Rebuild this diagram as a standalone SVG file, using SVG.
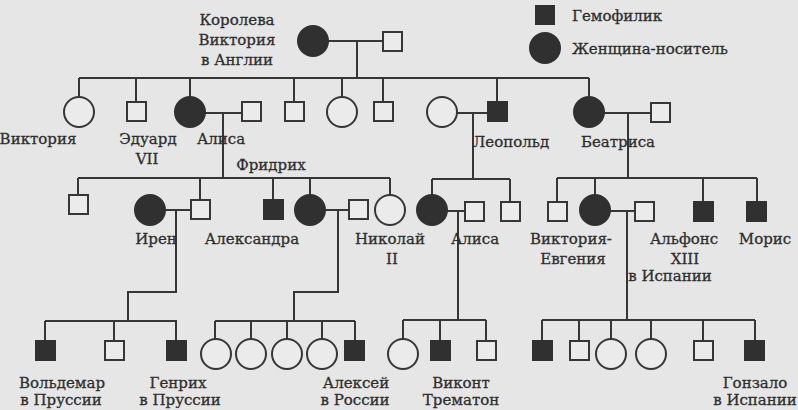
<svg xmlns="http://www.w3.org/2000/svg" width="798" height="410" viewBox="0 0 798 410">
<style>
.bg{fill:#e6e6e6}
.ln{stroke:#363636;stroke-width:2;fill:none}
.o{fill:#ebebeb;stroke:#363636;stroke-width:2}
.f{fill:#303030;stroke:#303030;stroke-width:2}
text{font-family:"DejaVu Serif","Liberation Serif",serif;font-size:15px;fill:#2e2e2e;stroke:#2e2e2e;stroke-width:0.3;text-anchor:middle}
.l{text-anchor:start}
</style>
<rect class="bg" x="0" y="0" width="798" height="410"/>
<g id="connectors">
<path class="ln" d="M328 41H383M357 41V78M79 78H589M79 78V97M136 78V102M190 78V97M294 78V102M342 78V97M383 78V102M497 78V102M589 78V97"/>
<path class="ln" d="M205 113H242M223 113V178M78 178H390M78 178V195M200 178V200M273 178V200M310 178V195M390 178V195"/>
<path class="ln" d="M457 113H488M473 113V179M432 179H510M432 179V195M510 179V202"/>
<path class="ln" d="M604 113H651M628 113V178M557 178H757M557 178V202M595 178V195M703 178V202M757 178V202"/>
<path class="ln" d="M165 210H191M176 210V292H128V321M45 321H177M45 321V341M114 321V341M176 321V341"/>
<path class="ln" d="M325 210H349M338 210V292H294V321M215 321H355M215 321V339M251 321V339M287 321V339M322 321V339M355 321V341"/>
<path class="ln" d="M447 211H465M458 211V320M403 320H486M403 320V339M440 320V341M486 320V341"/>
<path class="ln" d="M610 211H635M627 211V320M542 320H755M542 320V341M579 320V341M611 320V339M651 320V339M703 320V341M755 320V341"/>
</g>
<g id="legend">
<rect class="f" x="536" y="6" width="18" height="18"/>
<text class="l" x="572" y="21">Гемофилик</text>
<circle class="f" cx="545" cy="48" r="15"/>
<text class="l" x="572" y="54">Женщина-носитель</text>
</g>
<g id="queen-victoria"><circle class="f" cx="313" cy="41" r="15"/>
<text x="237" y="25">Королева</text><text x="237" y="45">Виктория</text><text x="237" y="65">в Англии</text></g>
<g id="albert"><rect class="o" x="383" y="32" width="19" height="19"/></g>
<g id="victoria"><circle class="o" cx="79" cy="112" r="15"/><text x="38" y="144">Виктория</text></g>
<g id="edward"><rect class="o" x="127" y="102" width="19" height="19"/><text x="148" y="144">Эдуард</text><text x="147" y="164">VII</text></g>
<g id="alice"><circle class="f" cx="190" cy="112" r="15"/><text x="221" y="144">Алиса</text></g>
<g id="ludwig"><rect class="o" x="242" y="102" width="19" height="19"/></g>
<g id="friedrich-label"><text x="271" y="170">Фридрих</text></g>
<g id="g2-son1"><rect class="o" x="285" y="102" width="19" height="19"/></g>
<g id="g2-dau"><circle class="o" cx="342" cy="112" r="15"/></g>
<g id="g2-son2"><rect class="o" x="374" y="102" width="19" height="19"/></g>
<g id="helena"><circle class="o" cx="442" cy="112" r="15"/></g>
<g id="leopold"><rect class="f" x="488" y="102" width="19" height="19"/><text x="511" y="147">Леопольд</text></g>
<g id="beatrice"><circle class="f" cx="589" cy="112" r="15"/><text x="618" y="147">Беатриса</text></g>
<g id="henry"><rect class="o" x="651" y="103" width="19" height="19"/></g>
<g id="g3-son1"><rect class="o" x="69" y="195" width="19" height="19"/></g>
<g id="irene"><circle class="f" cx="150" cy="210" r="15"/><text x="156" y="244">Ирен</text></g>
<g id="heinrich"><rect class="o" x="191" y="200" width="19" height="19"/></g>
<g id="g3-hemo"><rect class="f" x="264" y="200" width="19" height="19"/></g>
<g id="alexandra"><circle class="f" cx="310" cy="210" r="15"/><text x="252" y="244">Александра</text></g>
<g id="nicholas"><rect class="o" x="349" y="200" width="19" height="19"/><text x="390" y="244">Николай</text><text x="392" y="264">II</text></g>
<g id="g3-dau"><circle class="o" cx="390" cy="210" r="15"/></g>
<g id="alice2"><circle class="f" cx="432" cy="210" r="15"/><text x="475" y="244">Алиса</text></g>
<g id="alice2-husband"><rect class="o" x="465" y="202" width="19" height="19"/></g>
<g id="g3-son2"><rect class="o" x="501" y="202" width="19" height="19"/></g>
<g id="g3-son3"><rect class="o" x="548" y="202" width="19" height="19"/></g>
<g id="victoria-eugenie"><circle class="f" cx="595" cy="210" r="15"/><text x="571" y="244">Виктория-</text><text x="573" y="264">Евгения</text></g>
<g id="alfonso"><rect class="o" x="635" y="202" width="19" height="19"/><text x="684" y="244">Альфонс</text><text x="685" y="264">XIII</text><text x="670" y="281">в Испании</text></g>
<g id="g3-hemo2"><rect class="f" x="694" y="202" width="19" height="19"/></g>
<g id="maurice"><rect class="f" x="747" y="202" width="19" height="19"/><text x="765" y="244">Морис</text></g>
<g id="waldemar"><rect class="f" x="36" y="341" width="19" height="19"/><text x="62" y="388">Вольдемар</text><text x="61" y="405">в Пруссии</text></g>
<g id="g4-son"><rect class="o" x="105" y="341" width="19" height="19"/></g>
<g id="henry-prussia"><rect class="f" x="167" y="341" width="19" height="19"/><text x="178" y="388">Генрих</text><text x="180" y="405">в Пруссии</text></g>
<g id="olga"><circle class="o" cx="216" cy="354" r="15"/></g>
<g id="tatiana"><circle class="o" cx="251" cy="354" r="15"/></g>
<g id="maria"><circle class="o" cx="287" cy="354" r="15"/></g>
<g id="anastasia"><circle class="o" cx="322" cy="354" r="15"/></g>
<g id="alexei"><rect class="f" x="345" y="341" width="19" height="19"/><text x="356" y="388">Алексей</text><text x="355" y="405">в России</text></g>
<g id="g4-dau"><circle class="o" cx="403" cy="354" r="15"/></g>
<g id="trematon"><rect class="f" x="431" y="341" width="19" height="19"/><text x="461" y="388">Виконт</text><text x="461" y="405">Трематон</text></g>
<g id="g4-son2"><rect class="o" x="477" y="341" width="19" height="19"/></g>
<g id="alfonso-jr"><rect class="f" x="533" y="341" width="19" height="19"/></g>
<g id="jaime"><rect class="o" x="570" y="341" width="19" height="19"/></g>
<g id="beatriz"><circle class="o" cx="611" cy="354" r="15"/></g>
<g id="maria-cristina"><circle class="o" cx="651" cy="354" r="15"/></g>
<g id="juan"><rect class="o" x="694" y="341" width="19" height="19"/></g>
<g id="gonzalo"><rect class="f" x="745" y="341" width="19" height="19"/><text x="755" y="388">Гонзало</text><text x="755" y="405">в Испании</text></g>
</svg>
